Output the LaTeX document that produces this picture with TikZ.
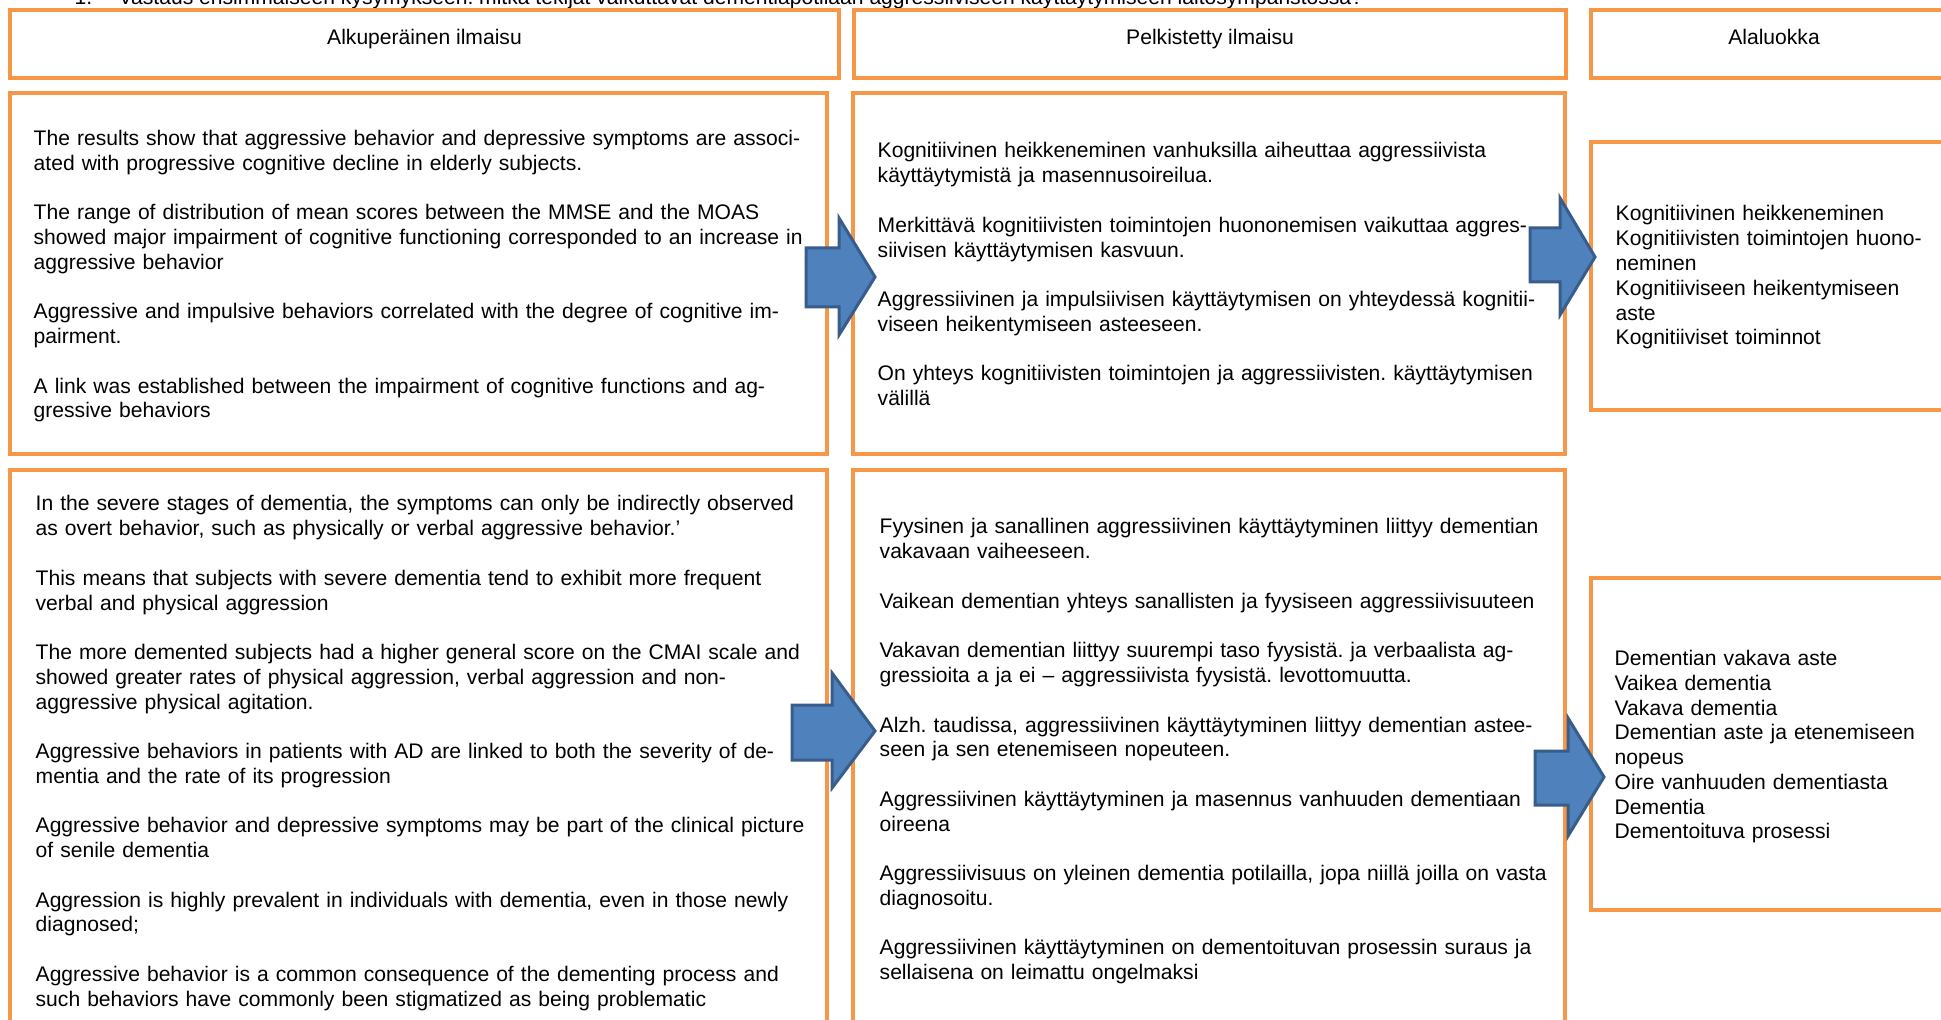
\documentclass[tikz,border=0pt]{standalone}
\usepackage{fontspec}
\setmainfont{Liberation Sans}
\usepackage{tikz}

\definecolor{boxorange}{HTML}{F79646}
\definecolor{arrowfill}{HTML}{4F81BD}
\definecolor{arrowline}{HTML}{385D8A}

\newcommand{\bodyfont}{\fontsize{6.0pt}{7.045pt}\selectfont\frenchspacing}
\newcommand{\gap}{\\[\baselineskip]}

\tikzset{
  obox/.style={draw=boxorange, line width=0.045cm, inner sep=0pt},
  txt/.style={anchor=base west, inner sep=0pt, align=left, font=\bodyfont},
  hdr/.style={anchor=base, inner sep=0pt, font=\bodyfont},
  barrow/.style={fill=arrowfill, draw=arrowline, line width=0.03cm, line join=miter}
}

\begin{document}
\begin{tikzpicture}

\useasboundingbox (0,0) rectangle (19.41,10.19);
\fill[white] (0,0) rectangle (19.41,10.19);
\clip (0,0) rectangle (19.41,10.19);

\node[txt] (num) at (0.74,10.145) {1.};
\node[txt] (title) at (1.18,10.145) {Vastaus ensimmäiseen kysymykseen: mitkä tekijät vaikuttavat dementiapotilaan aggressiiviseen käyttäytymiseen laitosympäristössä?};

\node[obox, minimum width=8.29cm, minimum height=0.68cm] (hdrA) at (4.245,9.75) {};
\node[obox, minimum width=7.12cm, minimum height=0.68cm] (hdrB) at (12.10,9.75) {};
\node[obox, minimum width=3.66cm, minimum height=0.68cm] (hdrC) at (17.74,9.75) {};

\node[hdr] (tA) at (4.245,9.74) {Alkuperäinen ilmaisu};
\node[hdr] (tB) at (12.10,9.74) {Pelkistetty ilmaisu};
\node[hdr] (tC) at (17.74,9.74) {Alaluokka};

\node[obox, minimum width=8.17cm, minimum height=3.61cm] (boxA1) at (4.185,7.455) {};
\node[obox, minimum width=7.12cm, minimum height=3.61cm] (boxB1) at (12.09,7.455) {};
\node[obox, minimum width=3.66cm, minimum height=2.68cm] (boxC1) at (17.74,7.43) {};

\node[obox, minimum width=8.17cm, minimum height=5.70cm] (boxA2) at (4.185,2.64) {};
\node[obox, minimum width=7.12cm, minimum height=5.70cm] (boxB2) at (12.09,2.64) {};
\node[obox, minimum width=3.66cm, minimum height=3.32cm] (boxC2) at (17.74,2.75) {};

\node[txt, text width=8cm] (origA) at (0.33,8.734) {
The results show that aggressive behavior and depressive symptoms are associ-\\
ated with progressive cognitive decline in elderly subjects.\gap
The range of distribution of mean scores between the MMSE and the MOAS\\
showed major impairment of cognitive functioning corresponded to an increase in\\
aggressive behavior\gap
Aggressive and impulsive behaviors correlated with the degree of cognitive im-\\
pairment.\gap
A link was established between the impairment of cognitive functions and ag-\\
gressive behaviors};

\node[txt, text width=7cm] (pelkA) at (8.77,8.61) {
Kognitiivinen heikkeneminen vanhuksilla aiheuttaa aggressiivista\\
käyttäytymistä ja masennusoireilua.\gap
Merkittävä kognitiivisten toimintojen huononemisen vaikuttaa aggres-\\
siivisen käyttäytymisen kasvuun.\gap
Aggressiivinen ja impulsiivisen käyttäytymisen on yhteydessä kognitii-\\
viseen heikentymiseen asteeseen.\gap
On yhteys kognitiivisten toimintojen ja aggressiivisten. käyttäytymisen\\
välillä};

\node[txt, text width=3.5cm] (alaA) at (16.15,7.98) {
Kognitiivinen heikkeneminen\\
Kognitiivisten toimintojen huono-\\
neminen\\
Kognitiiviseen heikentymiseen\\
aste\\
Kognitiiviset toiminnot};

\node[txt, text width=8cm] (origB) at (0.35,5.08) {
In the severe stages of dementia, the symptoms can only be indirectly observed\\
as overt behavior, such as physically or verbal aggressive behavior.’\gap
This means that subjects with severe dementia tend to exhibit more frequent\\
verbal and physical aggression\gap
The more demented subjects had a higher general score on the CMAI scale and\\
showed greater rates of physical aggression, verbal aggression and non-\\
aggressive physical agitation.\gap
Aggressive behaviors in patients with AD are linked to both the severity of de-\\
mentia and the rate of its progression\gap
Aggressive behavior and depressive symptoms may be part of the clinical picture\\
of senile dementia\gap
Aggression is highly prevalent in individuals with dementia, even in those newly\\
diagnosed;\gap
Aggressive behavior is a common consequence of the dementing process and\\
such behaviors have commonly been stigmatized as being problematic};

\node[txt, text width=7cm] (pelkB) at (8.79,4.85) {
Fyysinen ja sanallinen aggressiivinen käyttäytyminen liittyy dementian\\
vakavaan vaiheeseen.\gap
Vaikean dementian yhteys sanallisten ja fyysiseen aggressiivisuuteen\gap
Vakavan dementian liittyy suurempi taso fyysistä. ja verbaalista ag-\\
gressioita a ja ei – aggressiivista fyysistä. levottomuutta.\gap
Alzh. taudissa, aggressiivinen käyttäytyminen liittyy dementian astee-\\
seen ja sen etenemiseen nopeuteen.\gap
Aggressiivinen käyttäytyminen ja masennus vanhuuden dementiaan\\
oireena\gap
Aggressiivisuus on yleinen dementia potilailla, jopa niillä joilla on vasta\\
diagnosoitu.\gap
Aggressiivinen käyttäytyminen on dementoituvan prosessin suraus ja\\
sellaisena on leimattu ongelmaksi};

\node[txt, text width=3.5cm] (alaB) at (16.14,3.535) {
Dementian vakava aste\\
Vaikea dementia\\
Vakava dementia\\
Dementian aste ja etenemiseen\\
nopeus\\
Oire vanhuuden dementiasta\\
Dementia\\
Dementoituva prosessi};

\draw[barrow] (8.06,7.71) -- (8.39,7.71) -- (8.39,8.01) -- (8.75,7.42) -- (8.39,6.84) -- (8.39,7.12) -- (8.06,7.12) -- cycle;
\draw[barrow] (15.30,7.91) -- (15.60,7.91) -- (15.60,8.21) -- (15.95,7.62) -- (15.60,7.04) -- (15.60,7.37) -- (15.30,7.37) -- cycle;
\draw[barrow] (7.92,3.14) -- (8.32,3.14) -- (8.32,3.46) -- (8.75,2.88) -- (8.32,2.31) -- (8.32,2.59) -- (7.92,2.59) -- cycle;
\draw[barrow] (15.35,2.68) -- (15.68,2.68) -- (15.68,3.01) -- (16.04,2.42) -- (15.68,1.83) -- (15.68,2.14) -- (15.35,2.14) -- cycle;

\end{tikzpicture}
\end{document}
